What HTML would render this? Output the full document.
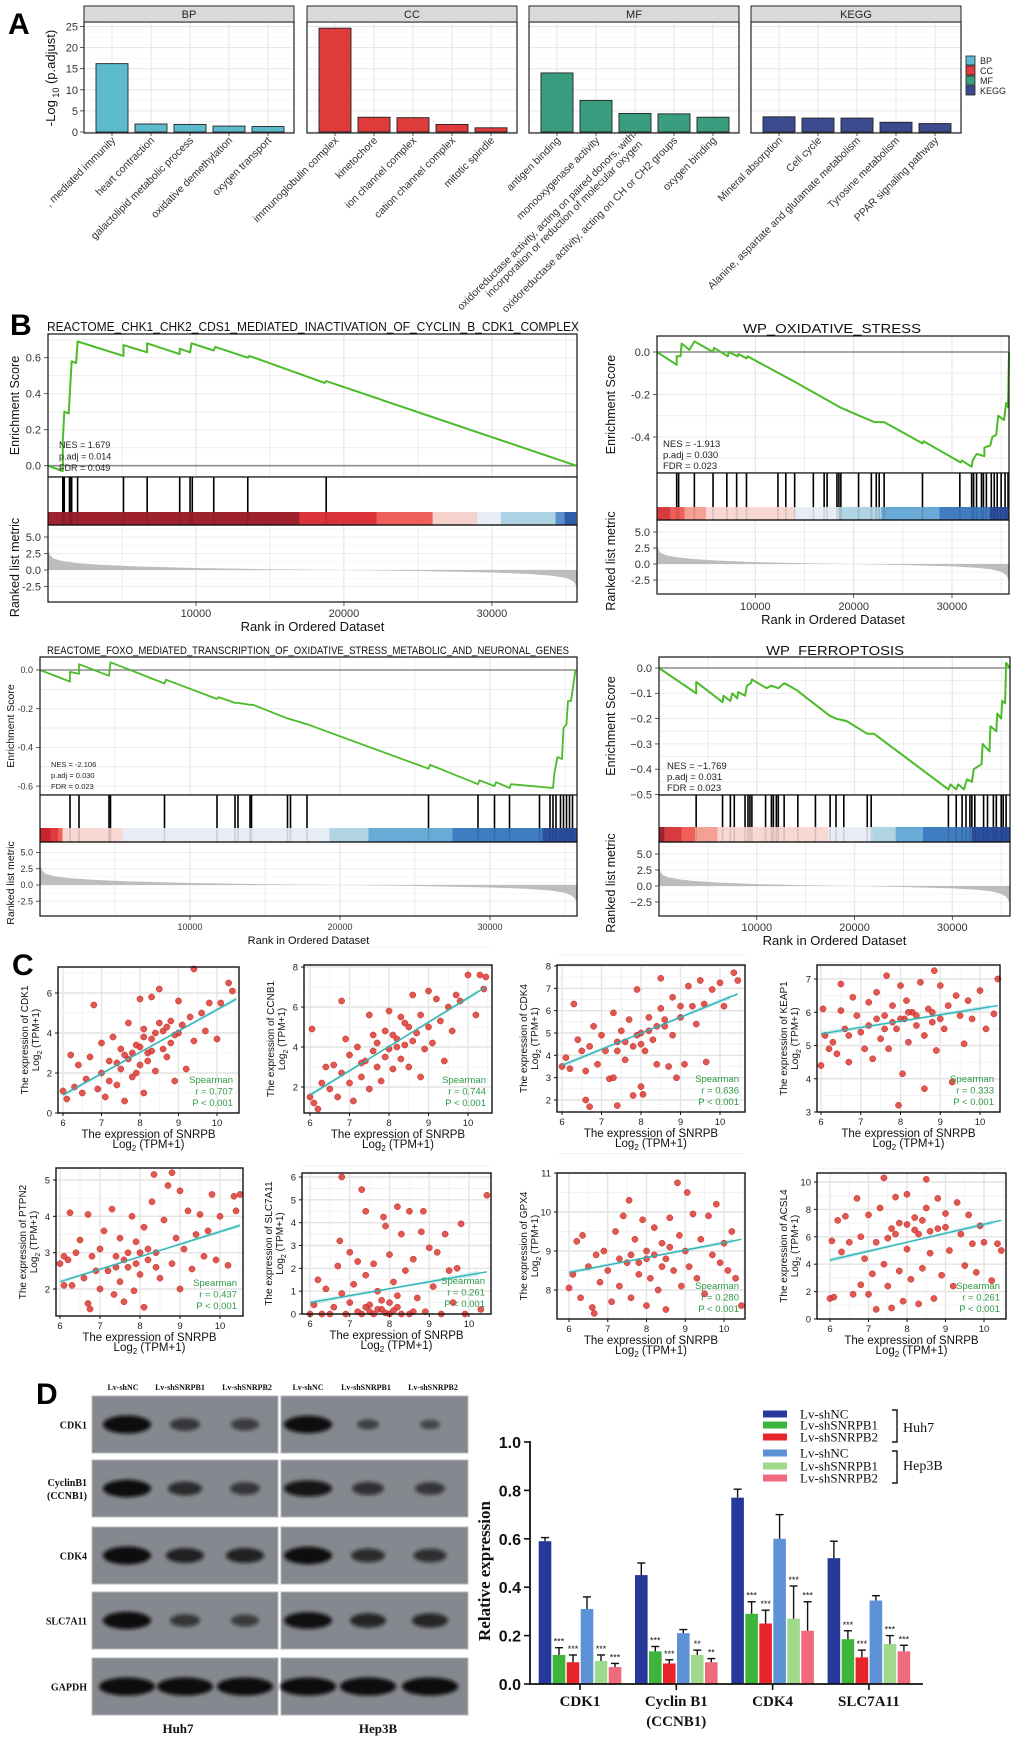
<!DOCTYPE html>
<html><head><meta charset="utf-8"><title>SNRPB figure</title>
<style>
html,body{margin:0;padding:0;background:#fff;}
svg{display:block;font-family:"Liberation Sans",Arial,sans-serif;}
.serif{font-family:"Liberation Serif","Times New Roman",serif;}
</style></head>
<body>
<svg id="fig" width="1020" height="1742" viewBox="0 0 1020 1742" xmlns="http://www.w3.org/2000/svg">
<defs>
<filter id="blur2" x="-30%" y="-80%" width="160%" height="260%"><feGaussianBlur stdDeviation="1.8"/></filter>
</defs>
<rect x="0" y="0" width="1020" height="1742" fill="#fff"/>
</svg>
<script>
// ================= DATA =================
// Panel A
const bpTerms = [", mediated immunity","heart contraction","galactolipid metabolic process","oxidative demethylation","oxygen transport"];
const bpVals = [16.2, 1.9, 1.8, 1.4, 1.3];
const ccTerms = ["immunoglobulin complex","kinetochore","ion channel complex","cation channel complex","mitotic spindle"];
const ccVals = [24.6, 3.5, 3.4, 1.8, 1.0];
const mfTerms = ["antigen binding","monooxygenase activity","oxidoreductase activity, acting on paired donors, with|incorporation or reduction of molecular oxygen","oxidoreductase activity, acting on CH or CH2 groups","oxygen binding"];
const mfVals = [14.0, 7.5, 4.4, 4.3, 3.5];
const keggTerms = ["Mineral absorption","Cell cycle","Alanine, aspartate and glutamate metabolism","Tyrosine metabolism","PPAR signaling pathway"];
const keggVals = [3.6, 3.3, 3.3, 2.3, 2.0];
const aTicks = [0,5,10,15,20,25];

// Panel B (rank in thousands -> ranks, ES values)
const chkRanks = [0,1000,1000,1100,1400,1500,1600,1900,2000,5100,5100,6700,6700,8900,8900,9600,9700,11200,11300,13500,13600,18700,18800,35700];
const chkES    = [0,-0.03,0.14,0.30,0.29,0.44,0.58,0.57,0.69,0.61,0.67,0.63,0.68,0.62,0.65,0.63,0.68,0.64,0.66,0.60,0.61,0.46,0.47,0];
const chkHits  = [1000,1100,1450,1550,1600,2000,5100,6700,8900,9600,9750,11200,13500,18800];
const oxRanks = [0,2000,2000,2400,2500,3300,3800,5700,5800,7200,7300,8200,8300,9100,9200,12400,13200,14000,18600,20600,22100,23100,27000,27100,30900,31000,32000,32100,32500,33300,33300,33900,34100,34500,34700,35300,35500,35700,35800];
const oxES    = [0,-0.06,-0.02,-0.02,0.04,0.01,0.05,0.0,0.02,-0.02,0,-0.02,-0.01,-0.03,-0.02,-0.10,-0.12,-0.14,-0.26,-0.30,-0.33,-0.33,-0.43,-0.42,-0.52,-0.51,-0.54,-0.51,-0.48,-0.49,-0.45,-0.44,-0.40,-0.39,-0.30,-0.32,-0.24,-0.26,0];
const oxHits  = [2000,2200,3800,5700,7100,8100,9100,12300,13100,14000,15900,17000,17300,18300,18500,18700,20500,21800,22300,22600,23100,27000,30800,32000,32200,32500,33000,33200,33500,34000,34300,34600,35000,35400,35700];
const foxRanks = [0,2000,2000,2600,2600,4600,4700,8300,8400,11800,11900,13000,13200,14000,14200,16500,17800,25900,26000,29200,29300,30300,30400,31300,31400,34200,34300,34500,34800,34900,35100,35200,35400,35700];
const foxES    = [0,-0.06,-0.01,-0.02,0.03,-0.03,0.04,-0.07,-0.05,-0.15,-0.14,-0.17,-0.17,-0.18,-0.18,-0.25,-0.28,-0.51,-0.49,-0.59,-0.57,-0.60,-0.58,-0.61,-0.59,-0.61,-0.53,-0.45,-0.46,-0.30,-0.28,-0.16,-0.16,0.0];
const foxHits  = [2000,2600,4600,4700,8300,11800,13000,13200,14000,14100,16500,16700,17800,25900,29200,30300,31300,33300,34000,34200,34400,34700,34900,35100,35300,35500];
const ferRanks = [0,3800,3800,6500,6600,7300,7500,8000,8100,8800,9000,9400,9500,9700,11000,11500,12200,12800,13300,14200,14500,17500,18100,19200,21300,22000,29600,29800,30400,30600,31200,31500,32000,32200,33000,33100,33800,33900,34500,34600,35000,35100,35400,35500,35900];
const ferES    = [0,-0.10,-0.055,-0.135,-0.11,-0.13,-0.10,-0.12,-0.095,-0.11,-0.07,-0.06,-0.045,-0.05,-0.08,-0.07,-0.08,-0.06,-0.07,-0.09,-0.10,-0.19,-0.20,-0.21,-0.26,-0.26,-0.48,-0.46,-0.48,-0.46,-0.48,-0.44,-0.45,-0.40,-0.38,-0.30,-0.33,-0.23,-0.25,-0.18,-0.20,-0.13,-0.14,0.02,0.0];
const ferHits  = [3800,6500,7300,7700,8800,9100,9300,9500,10900,11500,11700,12000,12200,12800,14200,16000,17500,18100,18900,21300,21700,29600,30400,31000,31400,31800,32000,32300,33200,33600,34200,34500,35000,35200,35500];
const rankedR = [0,150,400,1000,2000,3500,6000,10000,15000,20000,25000,30000,32500,34000,35000,35500,35900];
const rankedV = [3.0,2.2,1.7,1.35,1.05,0.8,0.55,0.3,0.12,0.0,-0.15,-0.38,-0.6,-0.85,-1.2,-1.7,-2.6];
const chkSegEnds = [17000,22200,26000,29000,30600,34300,34900,35700];
const chkSegCols = ['#a0212e','#d9323b','#f0605a','#f6d2cc','#e8ecf5','#acd2e3','#5b8fcc','#2f5ba8'];
const oxSegEnds = [1400,2800,5000,14000,18500,22800,28700,33800,35800];
const oxSegCols = ['#d73a3f','#f06058','#f5a095','#f7d8d2','#e8ecf5','#b0d4e4','#6aaad6','#3f7cc0','#2c4fa0'];
const foxSegEnds = [700,1200,1500,5500,19300,21900,27500,33500,35800];
const foxSegCols = ['#c9252f','#e03a3f','#f0605a','#f7d8d2','#e8ecf5','#b0d4e4','#6aaad6','#3f7cc0','#2c4fa0'];
const ferSegEnds = [600,2300,3700,6000,17300,21800,24200,27000,32000,35900];
const ferSegCols = ['#a0212e','#d73a3f','#f06058','#f5a095','#f7d8d2','#e8ecf5','#b0d4e4','#6aaad6','#3f7cc0','#2c4fa0'];

// Panel C scatter points (x, y pairs)
const cdk1Pts = [6.0,1.1,6.1,0.7,6.2,2.9,6.3,1.3,6.4,2.4,6.5,1.0,6.6,1.7,6.7,2.8,6.8,5.4,6.9,1.2,7.0,2.0,7.0,3.5,7.1,0.8,7.2,2.6,7.3,3.8,7.4,1.4,7.5,3.2,7.5,2.2,7.6,0.6,7.7,4.5,7.7,2.7,7.8,1.8,7.9,3.4,8.0,5.7,8.0,2.4,8.1,4.2,8.1,1.0,8.2,3.0,8.3,5.8,8.3,3.7,8.4,2.1,8.5,4.5,8.5,6.2,8.6,3.2,8.7,2.8,8.8,4.6,8.9,1.6,8.9,3.9,9.0,5.6,9.1,4.4,9.2,2.2,9.3,4.8,9.4,7.2,9.4,3.6,9.6,5.0,9.7,4.1,9.8,5.5,10.0,3.7,10.1,5.5,10.3,6.5,10.4,6.1,7.8,3.0,8.0,3.3,8.2,2.6,8.4,4.0,7.6,2.9,8.6,4.1,8.8,3.5,7.4,2.5,8.3,3.1,8.1,3.8,7.2,1.6,7.9,2.0,8.7,4.3,9.0,4.0];
const ccnb1Pts = [6.0,1.5,6.05,4.9,6.1,1.2,6.2,0.9,6.3,2.2,6.4,3.0,6.5,1.9,6.6,3.1,6.7,1.5,6.8,6.3,6.8,2.7,6.9,4.4,7.0,2.2,7.0,3.6,7.1,1.3,7.2,4.0,7.3,2.5,7.4,3.3,7.5,5.6,7.5,1.9,7.6,4.6,7.7,3.0,7.8,2.3,7.9,4.8,8.0,3.9,8.0,5.8,8.1,2.9,8.2,4.4,8.3,3.4,8.3,5.5,8.4,4.1,8.5,5.0,8.5,3.0,8.6,6.6,8.7,4.7,8.8,2.5,8.8,5.6,8.9,3.9,9.0,6.8,9.0,5.0,9.1,4.2,9.2,6.4,9.3,5.3,9.4,3.3,9.5,6.0,9.6,4.8,9.7,6.6,9.8,6.3,10.0,7.6,10.2,5.6,10.3,7.6,10.4,6.9,10.45,7.5,7.6,3.8,7.9,3.5,8.2,4.0,8.6,4.3,8.1,4.6,8.4,5.2,7.3,3.2,7.7,4.2];
const cdk4Pts = [6.0,3.5,6.1,3.9,6.2,3.4,6.3,6.3,6.4,4.7,6.5,4.2,6.6,3.3,6.6,2.0,6.7,1.7,6.7,4.4,6.8,5.3,6.9,3.6,7.0,4.9,7.1,4.2,7.2,2.95,7.3,5.9,7.3,3.0,7.4,1.75,7.4,4.6,7.5,5.1,7.6,3.8,7.7,5.6,7.8,4.4,7.8,2.2,7.9,6.95,8.0,2.6,8.0,5.0,8.05,2.25,8.1,4.2,8.2,5.7,8.3,4.7,8.4,3.6,8.5,6.1,8.5,7.45,8.6,5.3,8.7,3.5,8.8,6.6,8.8,4.9,8.9,3.0,9.0,5.7,9.1,3.6,9.2,7.1,9.3,6.2,9.4,5.4,9.5,7.35,9.6,6.3,9.65,3.7,9.8,6.95,10.0,7.25,10.1,6.2,10.35,7.7,10.45,7.35,7.6,4.6,7.9,4.9,8.2,5.1,8.4,5.3,8.0,4.5,8.6,5.6,7.4,4.2,9.0,6.2];
const keap1Pts = [6.0,4.4,6.05,6.1,6.1,5.3,6.2,4.9,6.3,5.1,6.4,4.75,6.5,6.85,6.5,6.05,6.6,5.5,6.7,4.5,6.7,5.3,6.8,6.45,6.9,5.9,7.0,5.4,7.1,4.9,7.2,6.3,7.2,5.6,7.3,4.6,7.4,6.6,7.5,5.2,7.6,5.9,7.65,7.1,7.7,4.9,7.8,6.2,7.9,5.5,7.95,3.2,8.0,6.8,8.05,4.15,8.1,5.8,8.15,6.35,8.2,5.1,8.3,6.0,8.4,5.6,8.5,6.9,8.6,5.3,8.6,3.7,8.7,6.1,8.8,5.7,8.85,7.25,8.9,4.85,9.0,6.8,9.1,5.5,9.2,6.2,9.3,3.9,9.4,6.5,9.5,5.9,9.6,5.05,9.7,6.35,9.8,5.8,10.0,6.65,10.15,5.5,10.35,5.95,10.45,7.0,7.4,5.8,7.8,5.7,8.2,6.0,8.4,5.9,7.6,5.5,8.0,5.8,8.8,6.0,9.0,5.8];
const ptpn2Pts = [6.0,2.7,6.1,2.9,6.1,2.1,6.2,2.8,6.25,4.1,6.3,2.1,6.4,3.0,6.5,3.35,6.6,2.3,6.7,4.05,6.7,1.6,6.75,1.45,6.8,2.9,6.9,2.5,7.0,3.1,7.0,2.0,7.1,3.6,7.2,2.5,7.3,4.2,7.35,1.85,7.4,2.9,7.5,3.4,7.5,2.2,7.6,1.65,7.7,3.0,7.7,2.6,7.8,4.0,7.85,1.95,7.9,3.3,8.0,2.4,8.1,3.7,8.1,1.5,8.2,2.8,8.3,4.4,8.35,5.15,8.4,3.0,8.5,2.3,8.6,3.9,8.7,4.85,8.8,5.2,8.8,2.7,8.9,3.4,9.0,4.7,9.0,2.0,9.1,3.1,9.2,4.15,9.3,2.55,9.4,3.5,9.5,4.05,9.6,2.9,9.7,3.6,9.8,4.6,9.9,2.8,10.0,4.0,10.2,2.65,10.35,4.55,10.4,4.15,10.5,4.6,7.6,2.8,7.9,2.7,8.2,3.1,8.4,2.6,8.0,3.0,7.4,2.6];
const slcPts = [6.0,0.0,6.1,0.4,6.2,1.5,6.3,0.0,6.4,1.1,6.5,0.0,6.6,0.3,6.7,2.1,6.75,3.2,6.8,0.9,6.8,6.0,6.9,0.0,7.0,0.5,7.0,2.7,7.1,1.3,7.2,0.1,7.2,2.3,7.3,5.45,7.3,0.0,7.4,4.5,7.4,1.7,7.5,0.4,7.6,2.2,7.6,0.0,7.7,1.0,7.8,0.2,7.85,4.25,7.9,3.85,8.0,0.0,8.0,2.6,8.1,1.4,8.2,4.7,8.2,0.3,8.3,3.5,8.4,1.9,8.5,0.0,8.5,4.5,8.6,2.4,8.7,0.7,8.8,3.6,8.85,4.5,8.9,0.1,9.0,2.9,9.1,1.2,9.2,2.7,9.3,0.0,9.4,3.5,9.5,1.9,9.6,0.5,9.7,2.0,9.8,3.95,9.9,0.0,10.3,0.2,10.45,5.2,7.5,0.1,7.7,0.2,7.9,0.05,8.1,0.15,8.3,0.0,8.6,0.1,7.4,0.3,8.0,0.5,8.2,0.8,7.8,0.6];
const gpx4Pts = [6.0,8.05,6.1,8.4,6.2,9.25,6.3,7.8,6.35,9.4,6.5,8.6,6.6,7.55,6.65,7.4,6.7,8.9,6.8,8.2,6.9,9.0,7.0,8.5,7.1,7.7,7.2,9.5,7.3,8.1,7.4,9.9,7.5,8.7,7.55,10.3,7.6,7.8,7.7,9.3,7.8,8.4,7.9,9.8,8.0,7.6,8.0,9.0,8.1,8.3,8.2,9.6,8.3,8.0,8.4,9.2,8.5,7.5,8.5,8.8,8.6,9.85,8.7,8.5,8.8,10.75,8.85,9.4,8.9,8.1,9.0,9.0,9.05,10.5,9.1,8.6,9.2,9.95,9.3,8.3,9.4,9.3,9.5,7.9,9.6,9.9,9.7,8.9,9.8,10.2,9.9,8.7,10.0,9.2,10.1,8.5,10.2,9.5,10.3,8.3,10.45,7.6,7.6,8.9,7.8,8.7,8.2,8.9,8.4,8.6,8.0,8.8,7.3,8.8,8.6,9.1];
const acsl4Pts = [6.0,1.5,6.05,5.7,6.1,1.6,6.2,7.2,6.3,4.9,6.4,7.5,6.5,5.6,6.6,1.8,6.7,8.8,6.8,2.5,6.8,6.0,6.9,4.4,7.0,1.8,7.0,7.6,7.1,3.3,7.2,5.6,7.2,0.7,7.3,8.1,7.4,4.0,7.4,10.3,7.5,2.4,7.6,6.6,7.6,0.8,7.7,8.9,7.8,3.5,7.8,7.0,7.9,1.3,8.0,9.1,8.0,5.1,8.1,2.9,8.2,7.4,8.3,1.1,8.3,6.2,8.4,3.7,8.5,10.2,8.5,8.1,8.6,4.8,8.7,1.5,8.8,8.8,8.8,6.6,8.9,3.2,9.0,7.7,9.1,5.0,9.2,2.4,9.3,8.5,9.4,6.2,9.5,3.9,9.6,7.6,9.7,5.5,9.8,3.4,9.9,6.8,10.0,5.6,10.2,2.8,10.35,5.5,10.45,5.0,7.7,6.2,8.0,6.9,8.2,6.5,8.4,7.2,7.5,5.9,8.6,6.4,9.0,6.7];
// regression line endpoints [x1,y1,x2,y2] and Spearman r
const fitLines = [[6,0.9,10.5,5.7],[6,1.6,10.45,7.0],[6,3.55,10.45,6.75],[6,5.35,10.45,6.2],[6,2.2,10.5,3.75],[6,0.5,10.45,1.85],[6,8.45,10.45,9.3],[6,4.3,10.45,7.2]];
const rhoVals = ["0.707","0.744","0.636","0.333","0.437","0.261","0.280","0.261"];
const geneNames = ["CDK1","CCNB1","CDK4","KEAP1","PTPN2","SLC7A11","GPX4","ACSL4"];

// Panel D bar data
const barGroups = ["CDK1","Cyclin B1","CDK4","SLC7A11"];
const huhNC  = [0.59,0.45,0.77,0.52];
const huhSh1 = [0.12,0.135,0.29,0.185];
const huhSh2 = [0.09,0.085,0.25,0.11];
const hepNC  = [0.31,0.21,0.60,0.345];
const hepSh1 = [0.095,0.12,0.27,0.165];
const hepSh2 = [0.07,0.09,0.22,0.135];
const huhNCErr  = [0.015,0.05,0.035,0.07];
const huhSh1Err = [0.03,0.02,0.05,0.035];
const huhSh2Err = [0.03,0.015,0.055,0.03];
const hepNCErr  = [0.05,0.015,0.10,0.02];
const hepSh1Err = [0.025,0.02,0.135,0.035];
const hepSh2Err = [0.015,0.015,0.12,0.025];
const sh1Stars = ["***","***","***","***"];
const sh2Stars = ["***","***","***","***"];
const hepSh1Stars = ["***","**","***","***"];
const hepSh2Stars = ["***","**","***","***"];
const barTicks = [0,0.2,0.4,0.6,0.8,1.0];
const blotRows = ["CDK1","CyclinB1|(CCNB1)","CDK4","SLC7A11","GAPDH"];
const bandLevels = [[1,0.55,0.5,0.95,0.35,0.3],[0.95,0.65,0.55,0.85,0.6,0.55],[1,0.75,0.75,0.95,0.65,0.62],[0.95,0.55,0.5,0.9,0.7,0.7],[1,1,1,1,1,1]];

// ================= HELPERS =================
const svg = document.getElementById('fig');
const NS = 'http://www.w3.org/2000/svg';
function mk(tag, a, p){const e=document.createElementNS(NS,tag);for(const k in a)e.setAttribute(k,a[k]);(p||svg).appendChild(e);return e;}
function tx(s, a, p){const e=mk('text',a,p);e.textContent=s;return e;}
function grp(p){return mk('g',{},p||svg);}

// ================= PANEL A =================
const gA = grp();


const labA = tx('A',{x:8,y:34,'font-size':30,'font-weight':'bold'},gA);


const facets = [
 {name:'BP',terms:bpTerms,vals:bpVals,color:'#5cbccd',x0:84,x1:294},
 {name:'CC',terms:ccTerms,vals:ccVals,color:'#e03b3b',x0:307,x1:517},
 {name:'MF',terms:mfTerms,vals:mfVals,color:'#3a9d7f',x0:529,x1:739},
 {name:'KEGG',terms:keggTerms,vals:keggVals,color:'#3c4b8e',x0:751,x1:961}
];
const yA = v => 132 - v*4.22;
facets.forEach((f,fi)=>{
  const g = grp(gA);
  
  
  mk('rect',{x:f.x0,y:22,width:f.x1-f.x0,height:111,fill:'#fff'},g);
  aTicks.forEach(t=>{ mk('line',{x1:f.x0,x2:f.x1,y1:yA(t),y2:yA(t),stroke:'#e6e6e6','stroke-width':1},g);
     if(t<25) mk('line',{x1:f.x0,x2:f.x1,y1:yA(t+2.5),y2:yA(t+2.5),stroke:'#f2f2f2','stroke-width':0.6},g);});
  f.vals.forEach((v,i)=>{
    const cx = f.x0 + 28 + i*39;
    mk('line',{x1:cx,x2:cx,y1:22,y2:133,stroke:'#e6e6e6','stroke-width':1},g);
  });
  f.vals.forEach((v,i)=>{
    const cx = f.x0 + 28 + i*39;
    const r = mk('rect',{x:cx-16,y:yA(v),width:32,height:132-yA(v),fill:f.color,stroke:'#222','stroke-width':0.9},g);
    
    
    mk('line',{x1:cx,x2:cx,y1:133,y2:136,stroke:'#333','stroke-width':0.8},g);
    const lines = f.terms[i].split('|');
    lines.forEach((ln,li)=>{
      const off = (li-(lines.length-1)/2)*11;
      const px = cx+4 + off*0.707, py = 141 + off*0.707;
      const t = tx(ln,{x:px,y:py,'font-size':10.5,'text-anchor':'end',fill:'#333',transform:`rotate(-45 ${px} ${py})`},g);
      
      
    });
  });
  mk('rect',{x:f.x0,y:22,width:f.x1-f.x0,height:111,fill:'none',stroke:'#222','stroke-width':1.2},g);
  const st = mk('rect',{x:f.x0,y:6,width:f.x1-f.x0,height:16,fill:'#d9d9d9',stroke:'#222','stroke-width':1},g);
  
  
  tx(f.name,{x:(f.x0+f.x1)/2,y:18,'font-size':11,'text-anchor':'middle',fill:'#222'},g);
});
aTicks.forEach(t=>{
  const l = tx(String(t),{x:78,y:yA(t)+4,'font-size':11,'text-anchor':'end',fill:'#333'},gA);
  
  
  mk('line',{x1:80,x2:84,y1:yA(t),y2:yA(t),stroke:'#333','stroke-width':0.8},gA);
});
const aTitle = mk('text',{x:55,y:78,'font-size':13,'text-anchor':'middle',fill:'#111',transform:'rotate(-90 55 78)'},gA);


aTitle.innerHTML = '-Log<tspan font-size="9" dy="4"> 10</tspan><tspan dy="-4"> (p.adjust)</tspan>';
const legA = grp(gA);


facets.forEach((f,i)=>{
  const r = mk('rect',{x:966,y:56+i*10,width:9,height:9,fill:f.color,stroke:'#222','stroke-width':0.8},legA);
  
  
  tx(f.name,{x:980,y:64+i*10,'font-size':9,fill:'#222'},legA);
});

// ================= PANEL B =================
const gB = grp();


const labB = tx('B',{x:10,y:335,'font-size':30,'font-weight':'bold'},gB);



function drawGsea(name, L, ranks, es, hits, segEnds, segCols, title, nes){
  const g = grp(gB);
  
  
  const xr = r => L.x0 + r*(L.x1-L.x0)/L.rmax;
  const ye = v => L.es0y - v*L.esPer;
  const yk = v => L.rk0y - v*L.rkPer;
  const W = L.x1-L.x0;
  // ES panel grid
  mk('rect',{x:L.x0,y:L.top,width:W,height:L.esBot-L.top,fill:'#fff'},g);
  const step = L.esTicks[1]-L.esTicks[0];
  for(let v=L.esTicks[0]-step*3; v<=L.esTicks[L.esTicks.length-1]+step*3; v+=step/2){
    const y=ye(v); if(y>L.top && y<L.esBot) mk('line',{x1:L.x0,x2:L.x1,y1:y,y2:y,stroke:'#ececec','stroke-width':1},g);
  }
  for(let r=5000;r<L.rmax;r+=5000){
    mk('line',{x1:xr(r),x2:xr(r),y1:L.top,y2:L.esBot,stroke:'#e8e8e8','stroke-width':r%10000?0.8:1.3},g);
    mk('line',{x1:xr(r),x2:xr(r),y1:L.cbBot,y2:L.rkBot,stroke:'#e8e8e8','stroke-width':r%10000?0.8:1.3},g);
  }
  mk('line',{x1:L.x0,x2:L.x1,y1:ye(0),y2:ye(0),stroke:'#8c8c8c','stroke-width':1.6},g);
  let pts = ranks.map((r,i)=>xr(r).toFixed(1)+','+ye(es[i]).toFixed(1)).join(' ');
  const curve = mk('polyline',{points:pts,fill:'none',stroke:'#4cbb2a','stroke-width':L.fs>10?2:1.8,'stroke-linejoin':'round'},g);
  
  
  mk('rect',{x:L.x0,y:L.top,width:W,height:L.esBot-L.top,fill:'none',stroke:'#111','stroke-width':1.2},g);
  L.esTicks.forEach(v=>{
    const lab = (v===0?'0.0':v.toFixed(1)).replace('-',L.minus||'-');
    tx(lab,{x:L.x0-7,y:ye(v)+L.fs*0.35,'font-size':L.fs,'text-anchor':'end',fill:'#333'},g);
    mk('line',{x1:L.x0-4,x2:L.x0,y1:ye(v),y2:ye(v),stroke:'#333','stroke-width':0.8},g);
  });
  nes.forEach((s,i)=>{
    const t = tx(s,{x:L.nesX,y:L.nesY+i*L.nesDy,'font-size':L.nesFs,fill:'#222'},g);
    
    
  });
  // hits
  mk('rect',{x:L.x0,y:L.esBot,width:W,height:L.cbBot-L.esBot,fill:'#fff'},g);
  let prev=0;
  segEnds.forEach((e,i)=>{
    const r = mk('rect',{x:xr(prev),y:L.hitBot,width:xr(e)-xr(prev),height:L.cbBot-L.hitBot,fill:segCols[i]},g);
    
    
    prev=e;
  });
  hits.forEach(h=>{
    const l = mk('line',{x1:xr(h),x2:xr(h),y1:L.esBot,y2:L.hitBot,stroke:'#000','stroke-width':1.6},g);
    
    
    mk('line',{x1:xr(h),x2:xr(h),y1:L.hitBot,y2:L.cbBot,stroke:'rgba(0,0,0,0.12)','stroke-width':1.6},g);
  });
  mk('rect',{x:L.x0,y:L.esBot,width:W,height:L.cbBot-L.esBot,fill:'none',stroke:'#111','stroke-width':1.2},g);
  // ranked metric
  [-2.5,0,2.5,5].forEach(v=>{mk('line',{x1:L.x0,x2:L.x1,y1:yk(v),y2:yk(v),stroke:'#ececec','stroke-width':1},g);
    mk('line',{x1:L.x0,x2:L.x1,y1:yk(v+1.25),y2:yk(v+1.25),stroke:'#f3f3f3','stroke-width':0.8},g);});
  let d = 'M'+xr(0)+','+yk(0);
  rankedR.forEach((r,i)=>{ const rr=Math.min(r,L.rmax); d+=' L'+xr(rr).toFixed(1)+','+yk(rankedV[i]).toFixed(1); });
  d += ' L'+xr(L.rmax)+','+yk(0)+' Z';
  const area = mk('path',{d:d,fill:'#bdbdbd',stroke:'none'},g);
  
  
  mk('rect',{x:L.x0,y:L.cbBot,width:W,height:L.rkBot-L.cbBot,fill:'none',stroke:'#111','stroke-width':1.2},g);
  [-2.5,0,2.5,5].forEach(v=>{
    tx(v.toFixed(1).replace('-',L.minus||'-'),{x:L.x0-7,y:yk(v)+L.fs*0.35,'font-size':L.fs,'text-anchor':'end',fill:'#333'},g);
    mk('line',{x1:L.x0-4,x2:L.x0,y1:yk(v),y2:yk(v),stroke:'#333','stroke-width':0.8},g);
  });
  [10000,20000,30000].forEach(r=>{
    mk('line',{x1:xr(r),x2:xr(r),y1:L.rkBot,y2:L.rkBot+4,stroke:'#333','stroke-width':0.8},g);
    const t = tx(String(r),{x:xr(r),y:L.xtY,'font-size':L.fs,'text-anchor':'middle',fill:'#333'},g);
    
    
  });
  const xt = tx('Rank in Ordered Dataset',{x:(L.x0+L.x1)/2,y:L.rlY,'font-size':L.fs+2,'text-anchor':'middle',fill:'#111'},g);
  
  
  const ec=(L.top+L.esBot)/2, rc=(L.cbBot+L.rkBot)/2;
  const y1 = tx('Enrichment Score',{x:L.ylx,y:ec,'font-size':L.fs+1.5,'text-anchor':'middle',fill:'#111',transform:`rotate(-90 ${L.ylx} ${ec})`},g);
  
  
  const y2 = tx('Ranked list metric',{x:L.ylx,y:rc+4,'font-size':L.fs+1.5,'text-anchor':'middle',fill:'#111',transform:`rotate(-90 ${L.ylx} ${rc+4})`},g);
  
  
  const ta = {x:L.titleX,y:L.titleY,'font-size':L.titleFs,'text-anchor':L.titleAnchor,fill:'#111'};
  if(L.titleLen){ta.textLength=L.titleLen; ta.lengthAdjust='spacingAndGlyphs';}
  const tt = tx(title,ta,g);
  
  
}
drawGsea('chk1', {x0:48,x1:577,rmax:35750,top:334,esBot:477,es0y:465.7,esPer:180,esTicks:[0,0.2,0.4,0.6],hitBot:512,cbBot:525,rkBot:602,rk0y:570,rkPer:6.6,xtY:617,rlY:631,ylx:19,fs:11,nesX:59,nesY:448,nesDy:11.5,nesFs:9,titleX:47,titleY:331,titleFs:13,titleAnchor:'start',titleLen:532},
  chkRanks, chkES, chkHits, chkSegEnds, chkSegCols, 'REACTOME_CHK1_CHK2_CDS1_MEDIATED_INACTIVATION_OF_CYCLIN_B_CDK1_COMPLEX', ['NES = 1.679','p.adj = 0.014','FDR = 0.049']);
drawGsea('oxidative-stress', {x0:657,x1:1009,rmax:35800,top:336,esBot:473,es0y:352,esPer:212.5,esTicks:[-0.4,-0.2,0],hitBot:507,cbBot:520,rkBot:594,rk0y:564,rkPer:6.4,xtY:610,rlY:624,ylx:615,fs:11,nesX:663,nesY:447,nesDy:11,nesFs:9.5,titleX:832,titleY:333,titleFs:13,titleAnchor:'middle',titleLen:178},
  oxRanks, oxES, oxHits, oxSegEnds, oxSegCols, 'WP_OXIDATIVE_STRESS', ['NES = -1.913','p.adj = 0.030','FDR = 0.023']);
drawGsea('foxo', {x0:40,x1:577,rmax:35800,top:657,esBot:795,es0y:670,esPer:193.5,esTicks:[-0.6,-0.4,-0.2,0],hitBot:828,cbBot:842,rkBot:916,rk0y:885,rkPer:6.5,xtY:930,rlY:944,ylx:14,fs:9,nesX:51,nesY:767,nesDy:11,nesFs:7.5,titleX:47,titleY:654,titleFs:11,titleAnchor:'start',titleLen:522},
  foxRanks, foxES, foxHits, foxSegEnds, foxSegCols, 'REACTOME_FOXO_MEDIATED_TRANSCRIPTION_OF_OXIDATIVE_STRESS_METABOLIC_AND_NEURONAL_GENES', ['NES = -2.106','p.adj = 0.030','FDR = 0.023']);
drawGsea('ferroptosis', {x0:659,x1:1010,rmax:35900,top:657,esBot:795,es0y:668,esPer:253,esTicks:[-0.5,-0.4,-0.3,-0.2,-0.1,0],hitBot:827,cbBot:842,rkBot:916,rk0y:886,rkPer:6.4,xtY:931,rlY:945,ylx:615,fs:11,minus:'\u2212',nesX:667,nesY:769,nesDy:11,nesFs:9.5,titleX:835,titleY:655,titleFs:13,titleAnchor:'middle',titleLen:138},
  ferRanks, ferES, ferHits, ferSegEnds, ferSegCols, 'WP_FERROPTOSIS', ['NES = \u22121.769','p.adj = 0.031','FDR = 0.023']);

// ================= PANEL C =================
const gC = grp();


const labC = tx('C',{x:12,y:975,'font-size':30,'font-weight':'bold'},gC);


const scLayouts = [
 {bx0:58,bx1:239,by0:967,by1:1113,x6:63,x10:217,ya:[0,1113,6,993],yt:[0,2,4,6]},
 {bx0:304,bx1:492,by0:965,by1:1113,x6:310,x10:468,ya:[2,1087,8,967],yt:[2,4,6,8]},
 {bx0:557,bx1:745,by0:965,by1:1112,x6:562,x10:720,ya:[2,1100,8,966],yt:[2,3,4,5,6,7,8]},
 {bx0:817,bx1:1000,by0:965,by1:1112,x6:821,x10:980,ya:[3,1112,7,979],yt:[3,4,5,6,7]},
 {bx0:56,bx1:243,by0:1168,by1:1316,x6:60,x10:220,ya:[2,1289,5,1180],yt:[2,3,4,5]},
 {bx0:302,bx1:491,by0:1173,by1:1314,x6:310,x10:469,ya:[0,1314,6,1177],yt:[0,1,2,3,4,5,6]},
 {bx0:557,bx1:745,by0:1173,by1:1319,x6:569,x10:724,ya:[8,1290,11,1173],yt:[8,9,10,11]},
 {bx0:817,bx1:1006,by0:1173,by1:1319,x6:830,x10:984,ya:[0,1319,10,1182],yt:[0,2,4,6,8,10]}
];
const scPts = [cdk1Pts,ccnb1Pts,cdk4Pts,keap1Pts,ptpn2Pts,slcPts,gpx4Pts,acsl4Pts];
scLayouts.forEach((L,k)=>{
  const g = grp(gC);
  
  
  const xs = v => L.x6 + (v-6)*(L.x10-L.x6)/4;
  const ys = v => L.ya[1] + (v-L.ya[0])*(L.ya[3]-L.ya[1])/(L.ya[2]-L.ya[0]);
  mk('rect',{x:L.bx0,y:L.by0,width:L.bx1-L.bx0,height:L.by1-L.by0,fill:'#fff'},g);
  [6,7,8,9,10].forEach(v=>{ mk('line',{x1:xs(v),x2:xs(v),y1:L.by0,y2:L.by1,stroke:'#e4e4e4','stroke-width':1.4},g);
    mk('line',{x1:xs(v+0.5),x2:xs(v+0.5),y1:L.by0,y2:L.by1,stroke:'#f0f0f0','stroke-width':0.8},g);});
  const ys1 = L.yt[1]-L.yt[0];
  L.yt.forEach(v=>{ mk('line',{x1:L.bx0,x2:L.bx1,y1:ys(v),y2:ys(v),stroke:'#e4e4e4','stroke-width':1.4},g);
    mk('line',{x1:L.bx0,x2:L.bx1,y1:ys(v+ys1/2),y2:ys(v+ys1/2),stroke:'#f0f0f0','stroke-width':0.8},g);});
  // band + line
  const f = fitLines[k];
  const sl = (f[3]-f[1])/(f[2]-f[0]);
  const fy = x => f[1] + sl*(x-f[0]);
  const hw = x => 0.06*(L.ya[2]-L.ya[0])/ (L.ya[2]-L.ya[0]) * (0.12 + 0.08*Math.abs(x-8.1)) * (L.ya[2]-L.ya[0]);
  let up=[],dn=[];
  for(let x=f[0];x<=f[2]+0.001;x+=0.25){up.push(xs(x).toFixed(1)+','+ys(fy(x)+hw(x)).toFixed(1)); dn.unshift(xs(x).toFixed(1)+','+ys(fy(x)-hw(x)).toFixed(1));}
  const band = mk('polygon',{points:up.concat(dn).join(' '),fill:'#9fdde0','fill-opacity':0.55},g);
  
  
  const P = scPts[k];
  for(let i=0;i<P.length;i+=2){
    const c = mk('circle',{cx:xs(P[i]).toFixed(1),cy:ys(P[i+1]).toFixed(1),r:3.1,fill:'#dc3a32','fill-opacity':0.85,stroke:'#c62a24','stroke-width':0.5},g);
    
    
  }
  const fl = mk('line',{x1:xs(f[0]),y1:ys(f[1]),x2:xs(f[2]),y2:ys(f[3]),stroke:'#2fb5b5','stroke-width':1.4},g);
  
  
  mk('rect',{x:L.bx0,y:L.by0,width:L.bx1-L.bx0,height:L.by1-L.by0,fill:'none',stroke:'#111','stroke-width':1.4},g);
  [6,7,8,9,10].forEach(v=>{
    mk('line',{x1:xs(v),x2:xs(v),y1:L.by1,y2:L.by1+3,stroke:'#111','stroke-width':1},g);
    tx(String(v),{x:xs(v),y:L.by1+13,'font-size':9.5,'text-anchor':'middle',fill:'#222'},g);
  });
  L.yt.forEach(v=>{
    mk('line',{x1:L.bx0-3,x2:L.bx0,y1:ys(v),y2:ys(v),stroke:'#111','stroke-width':1},g);
    tx(String(v),{x:L.bx0-6,y:ys(v)+3.5,'font-size':9.5,'text-anchor':'end',fill:'#222'},g);
  });
  const cx=(L.bx0+L.bx1)/2;
  const xt1 = tx('The expression of SNRPB',{x:cx,y:L.by1+25,'font-size':11.5,'text-anchor':'middle',fill:'#111'},g);
  
  
  const xt2 = mk('text',{x:cx,y:L.by1+35,'font-size':11.5,'text-anchor':'middle',fill:'#111'},g);
  xt2.innerHTML='Log<tspan font-size="8" dy="3">2</tspan><tspan dy="-3"> (TPM+1)</tspan>';
  const cy=(L.by0+L.by1)/2;
  const ax = L.bx0-30, ax2=L.bx0-19;
  const yt1 = tx('The expression of '+geneNames[k],{x:ax,y:cy,'font-size':10,'text-anchor':'middle',fill:'#111',transform:`rotate(-90 ${ax} ${cy})`},g);
  
  
  const yt2 = mk('text',{x:ax2,y:cy,'font-size':10,'text-anchor':'middle',fill:'#111',transform:`rotate(-90 ${ax2} ${cy})`},g);
  yt2.innerHTML='Log<tspan font-size="7" dy="3">2</tspan><tspan dy="-3"> (TPM+1)</tspan>';
  ['Spearman','r = '+rhoVals[k],'P < 0.001'].forEach((s,i)=>{
    const t = tx(s,{x:L.bx1-6,y:L.by1-30+i*11.5,'font-size':9.5,'text-anchor':'end',fill:'#2f9a45'},g);
    
    
  });
});

// ================= PANEL D =================
const gD = grp();


const labD = tx('D',{x:36,y:1404,'font-size':30,'font-weight':'bold'},gD);


const laneX = [127,185,245,308,368,430];
const laneNames = ['Lv-shNC','Lv-shSNRPB1','Lv-shSNRPB2','Lv-shNC','Lv-shSNRPB1','Lv-shSNRPB2'];
laneNames.forEach((n,i)=>{
  const t = tx(n,{x:[123,180,247,308,366,433][i],y:1390,'font-size':8,'font-weight':'bold','text-anchor':'middle',fill:'#111',class:'serif'},gD);
  
  
});
const rowY = [1396,1460,1527,1592,1658];
blotRows.forEach((rn,ri)=>{
  const y0 = rowY[ri], h=57;
  [[92,278],[281,468]].forEach((b,bi)=>{
    const r = mk('rect',{x:b[0],y:y0,width:b[1]-b[0],height:h,fill:'#85888e'},gD);
    
    
    mk('rect',{x:b[0],y:y0,width:b[1]-b[0],height:h,fill:'none',stroke:'#b5b7ba','stroke-width':1},gD);
  });
  laneX.forEach((lx,li)=>{
    const lv = bandLevels[ri][li];
    const isG = ri===4;
    const bw = isG?28:(li%3===0?24:20*lv+4);
    const bh = isG?9:(3+6*lv);
    const e = mk('ellipse',{cx:lx,cy:y0+h/2,rx:bw,ry:bh,fill:'#0c0c0c','fill-opacity':Math.min(1,0.25+lv*0.8),filter:'url(#blur2)'},gD);
    
    
  });
  const parts = rn.split('|');
  parts.forEach((p,pi)=>{
    const t = tx(p,{x:87,y:y0+h/2+4+(pi-(parts.length-1)/2)*13,'font-size':10,'font-weight':'bold','text-anchor':'end',fill:'#111',class:'serif'},gD);
    
    
  });
});
const hl = tx('Huh7',{x:178,y:1733,'font-size':13,'font-weight':'bold','text-anchor':'middle',fill:'#111',class:'serif'},gD);


const hl2 = tx('Hep3B',{x:378,y:1733,'font-size':13,'font-weight':'bold','text-anchor':'middle',fill:'#111',class:'serif'},gD);



// bar chart
const gBar = grp(gD);


const yB = v => 1684 - v*242;
const series = [huhNC,huhSh1,huhSh2,hepNC,hepSh1,hepSh2];
const errs = [huhNCErr,huhSh1Err,huhSh2Err,hepNCErr,hepSh1Err,hepSh2Err];
const stars = [null,sh1Stars,sh2Stars,null,hepSh1Stars,hepSh2Stars];
const serCols = ['#26399a','#3cb53a','#e8242b','#5d92d6','#9fd98c','#ef6a7d'];
const serNames = ['huh7-shnc','huh7-shsnrpb1','huh7-shsnrpb2','hep3b-shnc','hep3b-shsnrpb1','hep3b-shsnrpb2'];
barGroups.forEach((gname,gi)=>{
  const gc = 580 + gi*96.3;
  series.forEach((s,j)=>{
    const cx = gc + (j-2.5)*14;
    const v = s[gi], e = errs[j][gi];
    const r = mk('rect',{x:cx-6.3,y:yB(v),width:12.6,height:yB(0)-yB(v),fill:serCols[j]},gBar);
    
    
    mk('line',{x1:cx,x2:cx,y1:yB(v),y2:yB(v+e),stroke:'#111','stroke-width':1.4},gBar);
    mk('line',{x1:cx-4,x2:cx+4,y1:yB(v+e),y2:yB(v+e),stroke:'#111','stroke-width':1.4},gBar);
    if(stars[j]){
      const t = tx(stars[j][gi],{x:cx,y:yB(v+e)-3,'font-size':9,'text-anchor':'middle',fill:'#111'},gBar);
      
      
    }
  });
  mk('line',{x1:gc,x2:gc,y1:1684,y2:1690,stroke:'#111','stroke-width':1.6},gBar);
  const parts = gname==='Cyclin B1'?['Cyclin B1','(CCNB1)']:[gname];
  parts.forEach((p,pi)=>{
    const t = tx(p,{x:gc,y:1706+pi*20,'font-size':15,'font-weight':'bold','text-anchor':'middle',fill:'#111',class:'serif'},gBar);
    
    
  });
});
mk('line',{x1:530,x2:530,y1:1441,y2:1685,stroke:'#111','stroke-width':1.8},gBar);
mk('line',{x1:529,x2:923,y1:1684,y2:1684,stroke:'#111','stroke-width':1.8},gBar);
barTicks.forEach(v=>{
  mk('line',{x1:524,x2:530,y1:yB(v),y2:yB(v),stroke:'#111','stroke-width':1.6},gBar);
  const t = tx(v.toFixed(1),{x:521,y:yB(v)+6,'font-size':16,'font-weight':'bold','text-anchor':'end',fill:'#111'},gBar);
  
  
});
const yl = tx('Relative expression',{x:490,y:1571,'font-size':17,'font-weight':'bold','text-anchor':'middle',fill:'#111',class:'serif',transform:'rotate(-90 490 1571)'},gBar);


const legY = [1414,1425,1437,1453,1466,1478];
const legT = ['Lv-shNC','Lv-shSNRPB1','Lv-shSNRPB2','Lv-shNC','Lv-shSNRPB1','Lv-shSNRPB2'];
const gLeg = grp(gBar);


legT.forEach((t,i)=>{
  const r = mk('rect',{x:763,y:legY[i]-3.5,width:24,height:7,fill:serCols[i]},gLeg);
  
  
  const tt = tx(t,{x:800,y:legY[i]+4.5,'font-size':13,fill:'#111',class:'serif'},gLeg);
  
  
});
mk('polyline',{points:'892,1410 897,1410 897,1442 892,1442',fill:'none',stroke:'#111','stroke-width':1.4},gLeg);
mk('polyline',{points:'892,1451 897,1451 897,1483 892,1483',fill:'none',stroke:'#111','stroke-width':1.4},gLeg);
tx('Huh7',{x:903,y:1432,'font-size':14,fill:'#111',class:'serif'},gLeg);
tx('Hep3B',{x:903,y:1470,'font-size':14,fill:'#111',class:'serif'},gLeg);
</script>
</body></html>
